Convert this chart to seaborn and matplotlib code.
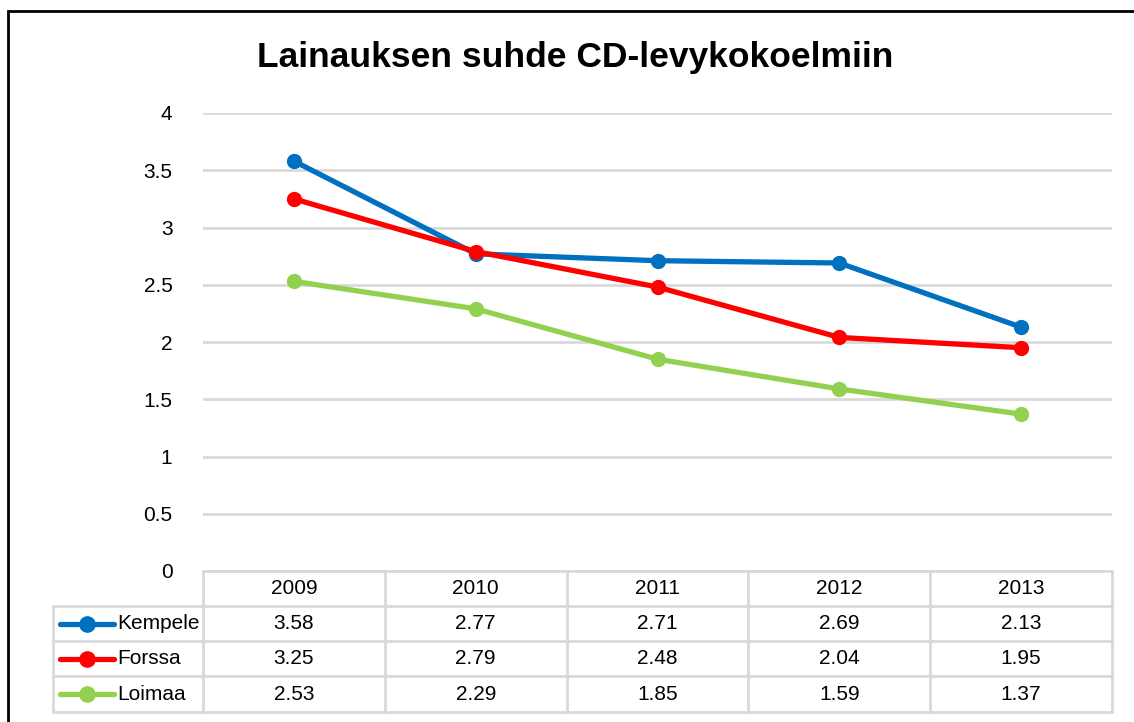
import numpy as np
import matplotlib
matplotlib.use("Agg")
import matplotlib.pyplot as plt
import matplotlib.font_manager as fm
from matplotlib.lines import Line2D
from matplotlib.patches import Rectangle
import pandas as pd
import seaborn as sns

# Data
years = ["2009", "2010", "2011", "2012", "2013"]
kempele = [3.58, 2.77, 2.71, 2.69, 2.13]
forssa = [3.25, 2.79, 2.48, 2.04, 1.95]
loimaa = [2.53, 2.29, 1.85, 1.59, 1.37]
series_names = ["Kempele", "Forssa", "Loimaa"]
series_colors = ["#0070C0", "#FF0000", "#92D050"]
title = "Lainauksen suhde CD-levykokoelmiin"

sns.set_theme(style="white")
names = {f.name for f in fm.fontManager.ttflist}
font = "Liberation Sans Narrow" if "Liberation Sans Narrow" in names else "Liberation Sans"
plt.rcParams['font.family'] = [font, 'DejaVu Sans']
plt.rcParams['text.color'] = "black"
plt.rcParams['ytick.labelcolor'] = "black"

df = pd.DataFrame({"year": years * 3,
                   "value": kempele + forssa + loimaa,
                   "series": [n for n in series_names for _ in years]})
df["x"] = df["year"].map({y: i for i, y in enumerate(years)})

fig = plt.figure(figsize=(11.34, 7.22), dpi=100)
W, H = 1134, 722
ax = fig.add_axes([203 / W, 1 - 571 / H, (1112 - 203) / W, (571 - 113) / H])

sns.lineplot(data=df, x="x", y="value", hue="series", hue_order=series_names,
             palette=series_colors, marker="o", markersize=11, markeredgewidth=0,
             linewidth=3.8, legend=False, ax=ax)

ax.set_xlim(-0.5, len(years) - 0.5)
ax.set_ylim(0, 4)
ax.set_yticks(np.arange(0, 4.01, 0.5))
ax.set_yticklabels(["0", "0.5", "1", "1.5", "2", "2.5", "3", "3.5", "4"])
ax.set_xticks([])
ax.set_xlabel("")
ax.set_ylabel("")
ax.tick_params(axis="y", length=0, pad=22, labelsize=15, labelcolor="black")
ax.grid(axis="y", color="#D9D9D9", linewidth=2)
ax.set_axisbelow(True)
for s in ax.spines.values():
    s.set_visible(False)

# data table below the axes
grid_c = "#D9D9D9"
ph = 571 - 113
rows_px = [571, 606, 641, 676, 712]
tf = ax.transAxes
def yf(py):
    return (571 - py) / ph
def xf(px):
    return (px - 203) / (1112 - 203)

# horizontal lines
ax.add_line(Line2D([0, 1], [yf(571), yf(571)], transform=tf, color=grid_c, lw=2, clip_on=False))
for py in rows_px[1:]:
    ax.add_line(Line2D([xf(53), 1], [yf(py), yf(py)], transform=tf, color=grid_c, lw=2, clip_on=False))
# vertical lines
for i in range(len(years) + 1):
    ax.add_line(Line2D([i / len(years)] * 2, [yf(571), yf(712)], transform=tf, color=grid_c, lw=2, clip_on=False))
ax.add_line(Line2D([xf(53)] * 2, [yf(606), yf(712)], transform=tf, color=grid_c, lw=2, clip_on=False))

for i, y in enumerate(years):
    ax.text((i + 0.5) / len(years), yf(588.5), y, transform=tf, ha="center", va="center", fontsize=15)
for r, (name, vals, col) in enumerate(zip(series_names, [kempele, forssa, loimaa], series_colors)):
    cy = yf((rows_px[r + 1] + rows_px[r + 2]) / 2)
    for i, v in enumerate(vals):
        ax.text((i + 0.5) / len(years), cy, f"{v:.2f}", transform=tf, ha="center", va="center", fontsize=15)
    ax.add_line(Line2D([xf(60), xf(114)], [cy, cy], transform=tf, color=col, lw=3.8, clip_on=False))
    ax.add_line(Line2D([xf(87)], [cy], transform=tf, color=col, marker="o", markersize=12,
                       markeredgewidth=0, lw=0, clip_on=False))
    ax.text(xf(117), cy, name, transform=tf, ha="left", va="center", fontsize=15)

fig.text(575 / W, 1 - 58 / H, title, ha="center", va="center", fontsize=25.5, fontweight="bold")

# chart frame
fig.add_artist(Rectangle((8 / W, -0.05), 1.0, 1 - 11 / H + 0.05, transform=fig.transFigure,
                         fill=False, edgecolor="black", linewidth=2))

fig.savefig("out.png", dpi=100)
